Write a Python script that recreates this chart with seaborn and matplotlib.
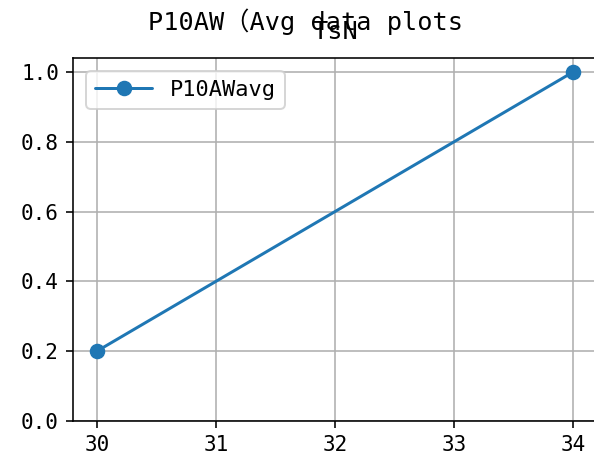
import matplotlib
matplotlib.use("Agg")
import matplotlib.pyplot as plt
import seaborn as sns
import pandas as pd

# data
x_vals = [30, 34]
y_vals = [0.2, 1.0]
series_name = "P10AWavg"
suptitle_text = "P10AW（Avg data plots"
axes_title_text = "TsN"
x_ticks = [30, 31, 32, 33, 34]
y_ticks = [0.0, 0.2, 0.4, 0.6, 0.8, 1.0]

sns.set_style("whitegrid", {"axes.edgecolor": "black", "grid.color": "#b0b0b0",
                            "xtick.bottom": True, "ytick.left": True,
                            "text.color": "black", "xtick.color": "black",
                            "ytick.color": "black"})
plt.rcParams["font.family"] = ["DejaVu Sans Mono", "Noto Sans CJK SC"]
plt.rcParams["axes.linewidth"] = 1.0

W, H, DPI = 594, 464, 144
fig = plt.figure(figsize=(W / DPI, H / DPI), dpi=DPI)
left, right, top, bottom = 73, 597, 58, 421
ax = fig.add_axes([left / W, 1 - bottom / H, (right - left) / W, (bottom - top) / H])

df = pd.DataFrame({"x": x_vals, "y": y_vals})
sns.lineplot(data=df, x="x", y="y", marker="o", markersize=7, linewidth=1.5,
             color="#1f77b4", markeredgecolor="#1f77b4", label=series_name, ax=ax)

ax.set_xlim(29.8, 34.2)
ax.set_ylim(0, 1.04)
ax.set_xticks(x_ticks)
ax.set_yticks(y_ticks)
ax.set_yticklabels([f"{v:.1f}" for v in y_ticks])
ax.set_xlabel("")
ax.set_ylabel("")
ax.tick_params(axis="both", labelsize=10.5, length=3.5, width=0.8, color="black", labelcolor="black")
ax.grid(True, color="#b0b0b0", linewidth=0.8)
for s in ax.spines.values():
    s.set_color("black")
    s.set_linewidth(0.8)

leg = ax.legend(loc="upper left", fontsize=11, frameon=True, handlelength=2.6,
                handletextpad=0.8, borderaxespad=0.6)
leg.get_frame().set_edgecolor("#cccccc")
for t in leg.get_texts():
    t.set_color("black")

fig.text(305 / W, 1 - 22 / H, suptitle_text, ha="center", va="center",
         fontsize=12.6, color="black")
fig.text(335 / W, 1 - 32 / H, axes_title_text, ha="center", va="center",
         fontsize=12.6, color="black")

fig.savefig("out.png", dpi=DPI)
